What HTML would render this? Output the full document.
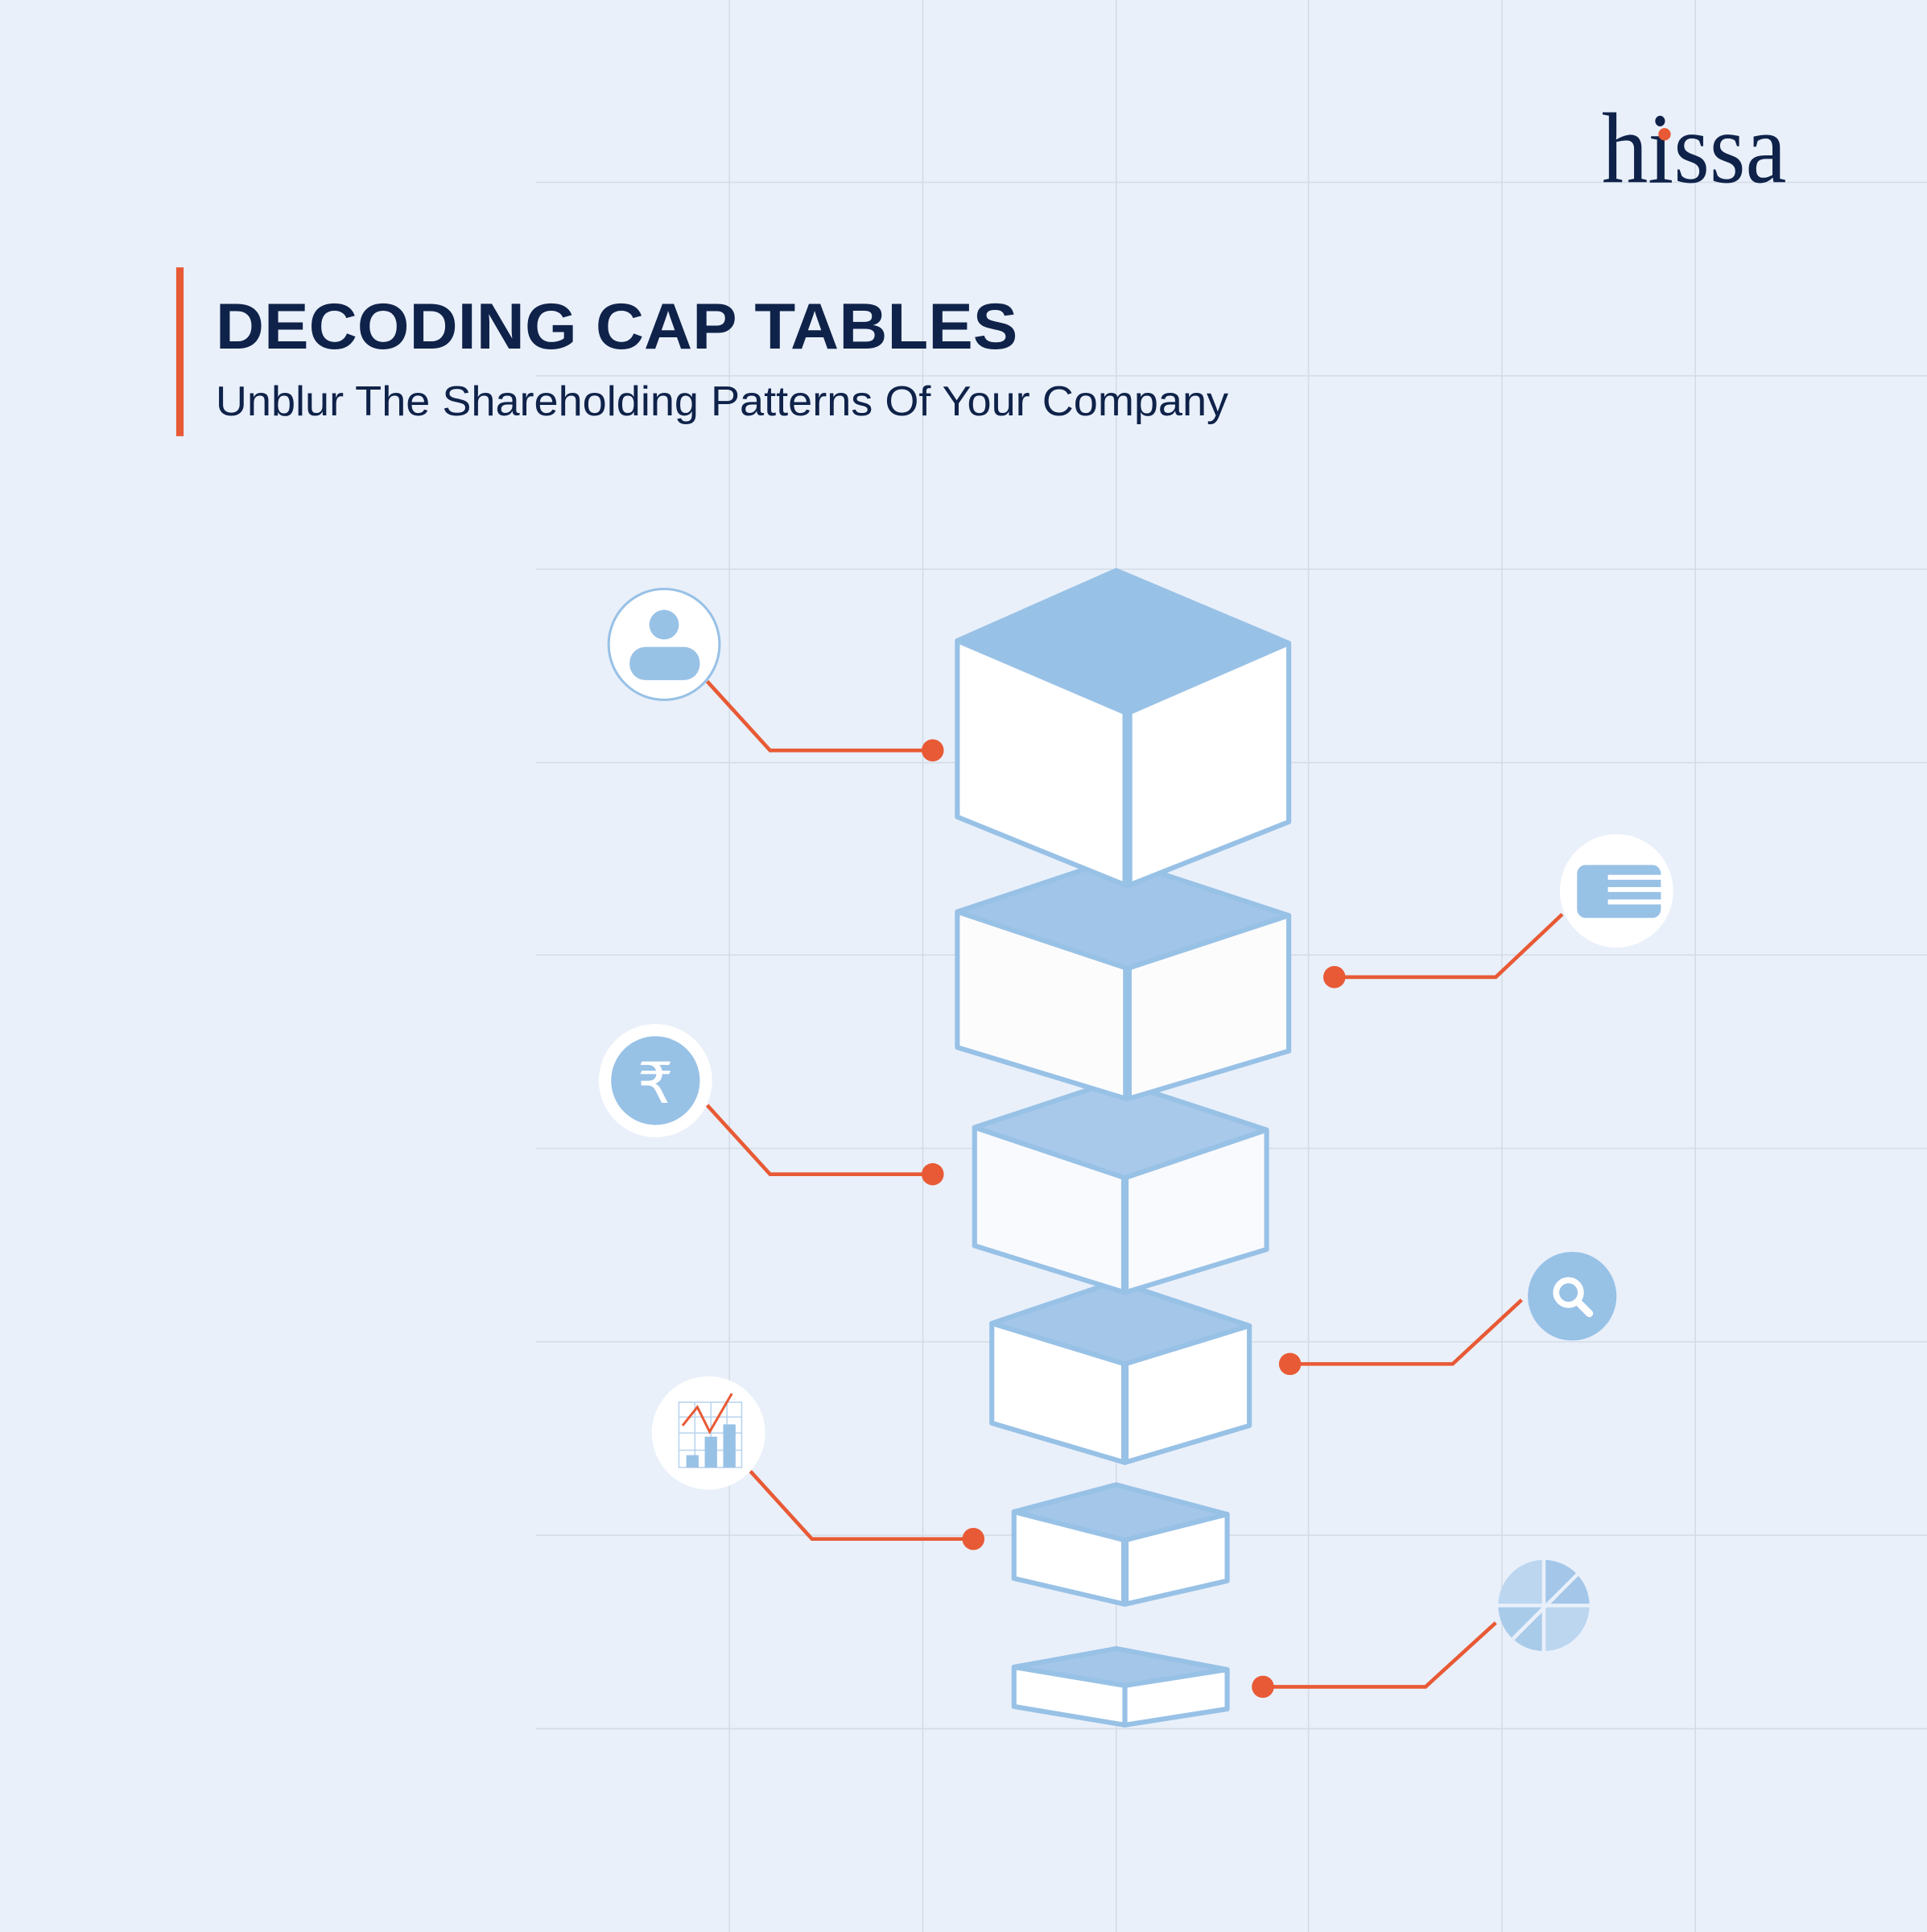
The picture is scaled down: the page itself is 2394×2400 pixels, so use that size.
<!DOCTYPE html>
<html><head><meta charset="utf-8"><style>html,body{margin:0;padding:0;background:#e9f0fa}svg{display:block}</style></head>
<body>
<svg width="2394" height="2400" viewBox="0 0 1564 1568" preserveAspectRatio="none" xmlns="http://www.w3.org/2000/svg">
<rect width="1564" height="1568" fill="#e9f0fa"/>
<g stroke="#d3dbe5" stroke-width="1">
<line x1="592" y1="0" x2="592" y2="1568"/><line x1="749" y1="0" x2="749" y2="1568"/><line x1="906" y1="0" x2="906" y2="1568"/><line x1="1062" y1="0" x2="1062" y2="1568"/><line x1="1219" y1="0" x2="1219" y2="1568"/><line x1="1376" y1="0" x2="1376" y2="1568"/>
<line x1="435" y1="148" x2="1564" y2="148"/><line x1="435" y1="305" x2="1564" y2="305"/><line x1="435" y1="462" x2="1564" y2="462"/><line x1="435" y1="619" x2="1564" y2="619"/><line x1="435" y1="775" x2="1564" y2="775"/><line x1="435" y1="932" x2="1564" y2="932"/><line x1="435" y1="1089" x2="1564" y2="1089"/><line x1="435" y1="1246" x2="1564" y2="1246"/><line x1="435" y1="1403" x2="1564" y2="1403"/>
</g>
<text x="1300" y="148" font-family="Liberation Serif, serif" font-size="82" fill="#0f2249" textLength="150" lengthAdjust="spacingAndGlyphs">hissa</text>
<circle cx="1351" cy="109" r="5" fill="#e85a35"/>
<rect x="143" y="217" width="6" height="137" fill="#e85a35"/>
<text x="175" y="283" font-family="Liberation Sans, sans-serif" font-weight="bold" font-size="53" fill="#0f2249" textLength="651" lengthAdjust="spacingAndGlyphs">DECODING CAP TABLES</text>
<text x="175" y="337" font-family="Liberation Sans, sans-serif" font-size="34" fill="#0f2249" textLength="822" lengthAdjust="spacingAndGlyphs">Unblur The Shareholding Patterns Of Your Company</text>
<g stroke="#98c1e6" stroke-width="4" stroke-linejoin="round">
<polygon points="823,1353 906,1338 996,1355 913,1368" fill="#a3c6e9"/>
<polygon points="823,1353 913,1368 913,1400 823,1385" fill="#fff"/>
<polygon points="913,1368 996,1355 996,1387 913,1400" fill="#fff"/>
<polygon points="823,1227 906,1205 996,1229 913,1250" fill="#a3c6e9"/>
<polygon points="823,1227 913,1250 913,1302 823,1281" fill="#fff"/>
<polygon points="913,1250 996,1229 996,1283 913,1302" fill="#fff"/>
<line x1="913" y1="1250" x2="913" y2="1302" stroke-width="6"/>
<polygon points="805,1074 906,1040 1014,1076 913,1107" fill="#a3c6e9"/>
<polygon points="805,1074 913,1107 913,1187 805,1155" fill="#fff"/>
<polygon points="913,1107 1014,1076 1014,1157 913,1187" fill="#fff"/>
<line x1="913" y1="1107" x2="913" y2="1187" stroke-width="6"/>
<polygon points="791,915 906,877 1028,917 913,956" fill="#a8c9ea"/>
<polygon points="791,915 913,956 913,1049 791,1011" fill="#f8fafd"/>
<polygon points="913,956 1028,917 1028,1014 913,1049" fill="#f8fafd"/>
<line x1="913" y1="956" x2="913" y2="1049" stroke-width="6"/>
<polygon points="777,740 906,697 1046,743 915,786" fill="#a1c5e8"/>
<polygon points="777,740 915,786 915,892 777,850" fill="#fcfcfd"/>
<polygon points="915,786 1046,743 1046,853 915,892" fill="#fcfcfd"/>
<line x1="915" y1="786" x2="915" y2="892" stroke-width="7"/>
<polygon points="777,520 906,463 1046,522 915,579" fill="#97c1e6"/>
<polygon points="777,520 915,579 915,719 777,663" fill="#fff"/>
<polygon points="915,579 1046,522 1046,667 915,719" fill="#fff"/>
<line x1="915" y1="579" x2="915" y2="719" stroke-width="8"/>
</g>
<g stroke="#e85a35" stroke-width="3" fill="none">
<polyline points="574,553 625,609 757,609"/>
<polyline points="1268,742 1214,793 1083,793"/>
<polyline points="574,897 625,953 757,953"/>
<polyline points="1235,1055 1179,1107 1047,1107"/>
<polyline points="609,1194 659,1249 790,1249"/>
<polyline points="1214,1317 1157,1369 1025,1369"/>
</g>
<g fill="#e85a35">
<circle cx="757" cy="609" r="9"/><circle cx="1083" cy="793" r="9"/><circle cx="757" cy="953" r="9"/><circle cx="1047" cy="1107" r="9"/><circle cx="790" cy="1249" r="9"/><circle cx="1025" cy="1369" r="9"/>
</g>
<circle cx="539" cy="523" r="45" fill="#fff" stroke="#98c1e6" stroke-width="2"/>
<circle cx="539" cy="507" r="12" fill="#98c1e6"/>
<rect x="511" y="525" width="57" height="27" rx="13" fill="#98c1e6"/>
<circle cx="1312" cy="723" r="46" fill="#fff"/>
<rect x="1280" y="702" width="68" height="43" rx="7" fill="#98c1e6"/>
<g stroke="#fff" stroke-width="4"><line x1="1305" y1="712" x2="1350" y2="712"/><line x1="1305" y1="722" x2="1350" y2="722"/><line x1="1305" y1="732" x2="1350" y2="732"/></g>
<circle cx="532" cy="877" r="46" fill="#fff"/>
<circle cx="532" cy="877" r="36" fill="#98c1e6"/>
<text x="532" y="895" text-anchor="middle" font-family="DejaVu Sans, sans-serif" font-size="46" fill="#fff">₹</text>
<circle cx="1276" cy="1052" r="36" fill="#98c1e6"/>
<circle cx="1273" cy="1049" r="10" fill="none" stroke="#fff" stroke-width="5"/>
<line x1="1281" y1="1057" x2="1290" y2="1066" stroke="#fff" stroke-width="6" stroke-linecap="round"/>
<circle cx="575" cy="1163" r="46" fill="#fff"/>
<g stroke="#b8d3ee" stroke-width="1" fill="none"><rect x="551" y="1138" width="51" height="53"/><line x1="551" y1="1150" x2="602" y2="1150"/><line x1="551" y1="1163" x2="602" y2="1163"/><line x1="551" y1="1177" x2="602" y2="1177"/><line x1="564" y1="1138" x2="564" y2="1191"/><line x1="577" y1="1138" x2="577" y2="1191"/><line x1="590" y1="1138" x2="590" y2="1191"/></g>
<rect x="557" y="1181" width="10" height="10" fill="#98c1e6"/><rect x="572" y="1166" width="10" height="25" fill="#98c1e6"/><rect x="587" y="1156" width="10" height="35" fill="#98c1e6"/>
<polyline points="554,1157 566,1142 576,1162 594,1131" fill="none" stroke="#e85a35" stroke-width="2"/>
<g fill="#bcd6f0"><path d="M1253,1303 L1253,1266 A37,37 0 0 0 1216,1303 Z"/><path d="M1253,1303 L1216,1303 A37,37 0 0 0 1253,1340 Z" fill="#a9cbea"/><path d="M1253,1303 L1253,1340 A37,37 0 0 0 1290,1303 Z"/><path d="M1253,1303 L1290,1303 A37,37 0 0 0 1253,1266 Z" fill="#a3c6e9"/></g>
<g stroke="#e9f0fa" stroke-width="3"><line x1="1253" y1="1262" x2="1253" y2="1344"/><line x1="1212" y1="1303" x2="1294" y2="1303"/><line x1="1228" y1="1330" x2="1282" y2="1276"/></g>
</svg>
</body></html>
